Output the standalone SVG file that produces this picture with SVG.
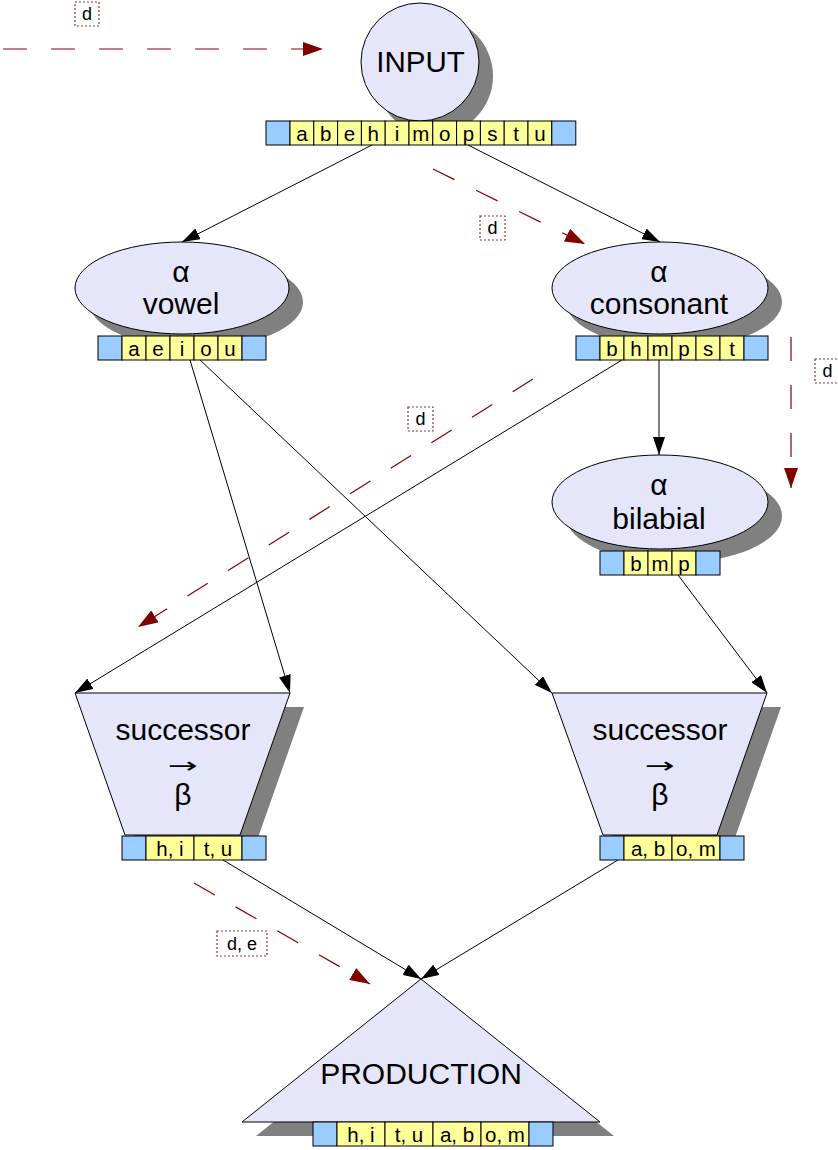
<svg xmlns="http://www.w3.org/2000/svg" width="838" height="1150" viewBox="0 0 838 1150">
  <defs>
    <marker id="arrow-black" viewBox="0 0 18 12" refX="18" refY="6" markerWidth="18" markerHeight="12" markerUnits="userSpaceOnUse" orient="auto">
      <path d="M0,0 L18,6 L0,12 Z" fill="#000"/>
    </marker>
    <marker id="arrow-red" viewBox="0 0 20 14" refX="20" refY="7" markerWidth="20" markerHeight="14" markerUnits="userSpaceOnUse" orient="auto">
      <path d="M0,0 L20,7 L0,14 Z" fill="#800000"/>
    </marker>
  </defs>
  <style>
    .shadow { fill: #808080; stroke: none; }
    .shape { fill: #e6e6fa; stroke: #000; stroke-width: 1; }
    .end { fill: #99ccff; stroke: #000; stroke-width: 1; }
    .cell { fill: #ffff99; stroke: #000; stroke-width: 1; }
    .title { font-family: "Liberation Sans", Arial, sans-serif; font-size: 30px; fill: #000; text-anchor: middle; }
    .op { font-family: "DejaVu Sans", sans-serif; font-size: 22px; fill: #000; text-anchor: middle; }
    .ct { font-family: "Liberation Sans", Arial, sans-serif; font-size: 20.5px; fill: #000; text-anchor: middle; }
    .flow { fill: none; stroke: #000; stroke-width: 1; marker-end: url(#arrow-black); }
    .dep { fill: none; stroke: #8b0000; stroke-width: 1.2; stroke-dasharray: 24 24; marker-end: url(#arrow-red); }
    .tagbox { fill: #fff; stroke: #a03030; stroke-width: 1.2; stroke-dasharray: 2 2; }
    .tag { font-family: "Liberation Sans", Arial, sans-serif; font-size: 18px; fill: #000; text-anchor: middle; }
  </style>

  <!-- INPUT -->
  <g id="input">
    <circle class="shadow" cx="434" cy="76" r="59"/>
    <circle class="shape" cx="420" cy="62" r="59"/>
    <text class="title" x="420.5" y="72" style="font-size:29.5px">INPUT</text>
    <rect class="end" x="266" y="121" width="24" height="24"/>
    <rect class="cell" x="290" y="121" width="23.8" height="24"/>
    <rect class="cell" x="313.8" y="121" width="23.8" height="24"/>
    <rect class="cell" x="337.6" y="121" width="23.8" height="24"/>
    <rect class="cell" x="361.4" y="121" width="23.8" height="24"/>
    <rect class="cell" x="385.2" y="121" width="23.8" height="24"/>
    <rect class="cell" x="409" y="121" width="23.8" height="24"/>
    <rect class="cell" x="432.8" y="121" width="23.8" height="24"/>
    <rect class="cell" x="456.6" y="121" width="23.8" height="24"/>
    <rect class="cell" x="480.4" y="121" width="23.8" height="24"/>
    <rect class="cell" x="504.2" y="121" width="23.8" height="24"/>
    <rect class="cell" x="528" y="121" width="23.8" height="24"/>
    <rect class="end" x="551.8" y="121" width="24" height="24"/>
    <text class="ct" x="301.9" y="141">a</text>
    <text class="ct" x="325.7" y="141">b</text>
    <text class="ct" x="349.5" y="141">e</text>
    <text class="ct" x="373.3" y="141">h</text>
    <text class="ct" x="397.1" y="141">i</text>
    <text class="ct" x="420.9" y="141">m</text>
    <text class="ct" x="444.7" y="141">o</text>
    <text class="ct" x="468.5" y="141">p</text>
    <text class="ct" x="492.3" y="141">s</text>
    <text class="ct" x="516.1" y="141">t</text>
    <text class="ct" x="539.9" y="141">u</text>
  </g>

  <!-- alpha vowel -->
  <g id="vowel">
    <ellipse class="shadow" cx="196" cy="302" rx="107" ry="46"/>
    <ellipse class="shape" cx="182" cy="288" rx="107" ry="46"/>
    <text class="title" x="181" y="282">α</text>
    <text class="title" x="181" y="314">vowel</text>
    <rect class="end" x="98" y="336" width="24" height="24"/>
    <rect class="cell" x="122" y="336" width="24" height="24"/>
    <rect class="cell" x="146" y="336" width="24" height="24"/>
    <rect class="cell" x="170" y="336" width="24" height="24"/>
    <rect class="cell" x="194" y="336" width="24" height="24"/>
    <rect class="cell" x="218" y="336" width="24" height="24"/>
    <rect class="end" x="242" y="336" width="24" height="24"/>
    <text class="ct" x="134" y="356">a</text>
    <text class="ct" x="158" y="356">e</text>
    <text class="ct" x="182" y="356">i</text>
    <text class="ct" x="206" y="356">o</text>
    <text class="ct" x="230" y="356">u</text>
  </g>

  <!-- alpha consonant -->
  <g id="consonant">
    <ellipse class="shadow" cx="674" cy="302" rx="108" ry="46"/>
    <ellipse class="shape" cx="660" cy="288" rx="108" ry="46"/>
    <text class="title" x="659" y="282">α</text>
    <text class="title" x="659" y="314">consonant</text>
    <rect class="end" x="576" y="336" width="24" height="24"/>
    <rect class="cell" x="600" y="336" width="24" height="24"/>
    <rect class="cell" x="624" y="336" width="24" height="24"/>
    <rect class="cell" x="648" y="336" width="24" height="24"/>
    <rect class="cell" x="672" y="336" width="24" height="24"/>
    <rect class="cell" x="696" y="336" width="24" height="24"/>
    <rect class="cell" x="720" y="336" width="24" height="24"/>
    <rect class="end" x="744" y="336" width="24" height="24"/>
    <text class="ct" x="612" y="356">b</text>
    <text class="ct" x="636" y="356">h</text>
    <text class="ct" x="660" y="356">m</text>
    <text class="ct" x="684" y="356">p</text>
    <text class="ct" x="708" y="356">s</text>
    <text class="ct" x="732" y="356">t</text>
  </g>

  <!-- alpha bilabial -->
  <g id="bilabial">
    <ellipse class="shadow" cx="674" cy="516" rx="108" ry="47"/>
    <ellipse class="shape" cx="660" cy="502" rx="108" ry="47"/>
    <text class="title" x="659" y="495">α</text>
    <text class="title" x="659" y="529">bilabial</text>
    <rect class="end" x="600" y="551" width="24" height="24"/>
    <rect class="cell" x="624" y="551" width="24" height="24"/>
    <rect class="cell" x="648" y="551" width="24" height="24"/>
    <rect class="cell" x="672" y="551" width="24" height="24"/>
    <rect class="end" x="696" y="551" width="24" height="24"/>
    <text class="ct" x="636" y="571">b</text>
    <text class="ct" x="660" y="571">m</text>
    <text class="ct" x="684" y="571">p</text>
  </g>

  <!-- successor (left) -->
  <g id="successor-left">
    <polygon class="shadow" points="89,707 304,707 254,849 139,849"/>
    <polygon class="shape" points="75,693 290,693 240,835 125,835"/>
    <text class="title" x="183" y="740">successor</text>
    <text class="op" x="183" y="773" textLength="30" lengthAdjust="spacingAndGlyphs">→</text>
    <text class="title" x="183" y="805">β</text>
    <rect class="end" x="122" y="836" width="24" height="24"/>
    <rect class="cell" x="146" y="836" width="48" height="24"/>
    <rect class="cell" x="194" y="836" width="48" height="24"/>
    <rect class="end" x="242" y="836" width="24" height="24"/>
    <text class="ct" x="170" y="856">h, i</text>
    <text class="ct" x="218" y="856">t, u</text>
  </g>

  <!-- successor (right) -->
  <g id="successor-right">
    <polygon class="shadow" points="566,707 781,707 731,849 617,849"/>
    <polygon class="shape" points="552,693 767,693 717,835 603,835"/>
    <text class="title" x="660" y="740">successor</text>
    <text class="op" x="660" y="773" textLength="30" lengthAdjust="spacingAndGlyphs">→</text>
    <text class="title" x="660" y="805">β</text>
    <rect class="end" x="600" y="836" width="24" height="24"/>
    <rect class="cell" x="624" y="836" width="48" height="24"/>
    <rect class="cell" x="672" y="836" width="48" height="24"/>
    <rect class="end" x="720" y="836" width="24" height="24"/>
    <text class="ct" x="648" y="856">a, b</text>
    <text class="ct" x="696" y="856">o, m</text>
  </g>

  <!-- PRODUCTION -->
  <g id="production">
    <polygon class="shadow" points="435,993 614,1136 256,1136"/>
    <polygon class="shape" points="421,979 600,1122 242,1122"/>
    <text class="title" x="421" y="1084">PRODUCTION</text>
    <rect class="end" x="313" y="1122" width="24" height="24"/>
    <rect class="cell" x="337" y="1122" width="48" height="24"/>
    <rect class="cell" x="385" y="1122" width="48" height="24"/>
    <rect class="cell" x="433" y="1122" width="48" height="24"/>
    <rect class="cell" x="481" y="1122" width="48" height="24"/>
    <rect class="end" x="529" y="1122" width="24" height="24"/>
    <text class="ct" x="361" y="1142">h, i</text>
    <text class="ct" x="409" y="1142">t, u</text>
    <text class="ct" x="457" y="1142">a, b</text>
    <text class="ct" x="505" y="1142">o, m</text>
  </g>

  <!-- connectors -->
  <g id="connectors">
    <line class="flow" x1="372" y1="145" x2="182" y2="242"/>
    <line class="flow" x1="468" y1="145" x2="660" y2="242"/>
    <line class="flow" x1="190" y1="360" x2="290" y2="693"/>
    <line class="flow" x1="200" y1="360" x2="552" y2="693"/>
    <line class="flow" x1="622" y1="360" x2="75" y2="693"/>
    <line class="flow" x1="659" y1="360" x2="659" y2="455"/>
    <line class="flow" x1="678" y1="575" x2="767" y2="693"/>
    <line class="flow" x1="223" y1="860" x2="421" y2="979"/>
    <line class="flow" x1="618" y1="860" x2="421" y2="979"/>

    <line class="dep" x1="3" y1="49" x2="323" y2="49"/>
    <line class="dep" x1="433" y1="169" x2="585" y2="244"/>
    <line class="dep" x1="533" y1="379" x2="138" y2="627"/>
    <line class="dep" x1="791" y1="337" x2="791" y2="488"/>
    <line class="dep" x1="194" y1="883" x2="370" y2="984"/>
  </g>

  <!-- dependency tags -->
  <g id="tags">
    <rect class="tagbox" x="75" y="2" width="24" height="24"/>
    <text class="tag" x="87" y="20">d</text>
    <rect class="tagbox" x="480" y="216" width="25" height="24"/>
    <text class="tag" x="492.5" y="234">d</text>
    <rect class="tagbox" x="408" y="407" width="25" height="24"/>
    <text class="tag" x="420.5" y="425">d</text>
    <rect class="tagbox" x="815" y="359" width="25" height="24"/>
    <text class="tag" x="827.5" y="377">d</text>
    <rect class="tagbox" x="217" y="931" width="50" height="25"/>
    <text class="tag" x="242" y="950">d, e</text>
  </g>
</svg>
